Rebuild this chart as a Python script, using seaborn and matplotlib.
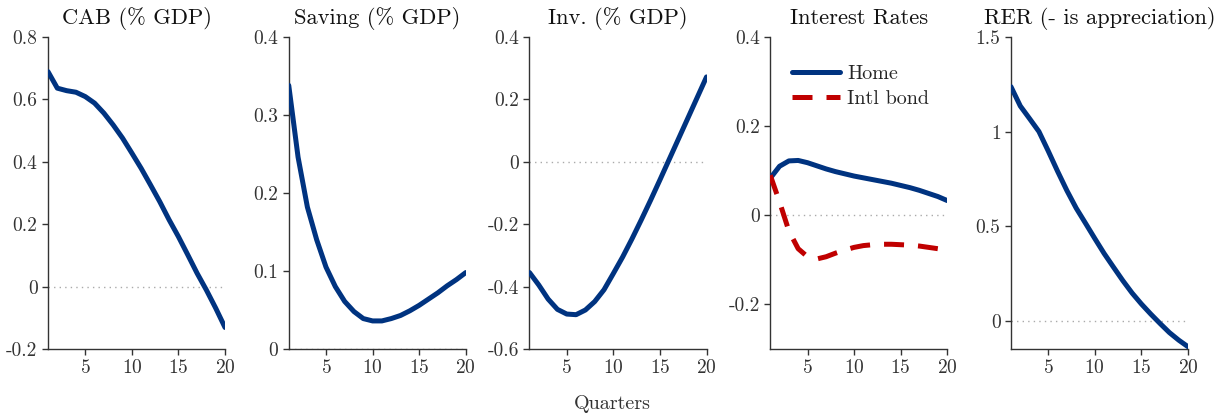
import matplotlib
matplotlib.use("Agg")
import matplotlib.pyplot as plt
from matplotlib.ticker import FuncFormatter, FixedLocator
import seaborn as sns
import pandas as pd

quarters = list(range(1, 21))

cab = [0.689, 0.636, 0.628, 0.623, 0.609, 0.588, 0.556, 0.518, 0.476, 0.428,
       0.379, 0.326, 0.272, 0.214, 0.160, 0.102, 0.043, -0.011, -0.069, -0.131]
saving = [0.338, 0.246, 0.182, 0.140, 0.105, 0.080, 0.061, 0.048, 0.039, 0.036,
          0.036, 0.039, 0.043, 0.049, 0.056, 0.064, 0.072, 0.081, 0.089, 0.098]
inv = [-0.355, -0.395, -0.440, -0.473, -0.488, -0.490, -0.475, -0.448, -0.410, -0.358,
       -0.305, -0.247, -0.186, -0.123, -0.058, 0.008, 0.074, 0.140, 0.206, 0.272]
rate_home = [0.083, 0.110, 0.122, 0.123, 0.118, 0.111, 0.104, 0.098, 0.093, 0.088,
             0.084, 0.080, 0.076, 0.072, 0.067, 0.062, 0.056, 0.049, 0.042, 0.033]
rate_intl = [0.090, 0.030, -0.035, -0.075, -0.093, -0.098, -0.093, -0.085, -0.078, -0.072,
             -0.068, -0.066, -0.065, -0.065, -0.066, -0.067, -0.069, -0.072, -0.075, -0.078]
rer = [1.237, 1.135, 1.068, 1.000, 0.897, 0.790, 0.688, 0.595, 0.515, 0.434,
       0.355, 0.283, 0.212, 0.146, 0.088, 0.035, -0.015, -0.063, -0.103, -0.138]

titles = ["CAB (% GDP)", "Saving (% GDP)", "Inv. (% GDP)", "Interest Rates",
          "RER (- is appreciation)"]
ylims = [(-0.2, 0.8), (0, 0.4), (-0.6, 0.4), (-0.3, 0.4), (-0.15, 1.5)]
yticks = [[-0.2, 0, 0.2, 0.4, 0.6, 0.8], [0, 0.1, 0.2, 0.3, 0.4],
          [-0.6, -0.4, -0.2, 0, 0.2, 0.4], [-0.2, 0, 0.2, 0.4], [0, 0.5, 1, 1.5]]
xticks = [5, 10, 15, 20]

navy = "#003380"
red = "#c00000"

sns.set_style("ticks")
plt.rcParams["font.family"] = ["cmr10", "DejaVu Serif"]
plt.rcParams["axes.unicode_minus"] = False
plt.rcParams["axes.formatter.use_mathtext"] = True

fig, axes = plt.subplots(1, 5, figsize=(12.25, 4.15), dpi=100)
fig.subplots_adjust(left=48 / 1225, right=1188 / 1225, bottom=66 / 415, top=378 / 415,
                    wspace=0.36)

single = [cab, saving, inv, None, rer]
fmt = FuncFormatter(lambda v, p: "{:g}".format(round(v, 6)))

for i, ax in enumerate(axes):
    ax.axhline(0, color="#aaaaaa", lw=1.0, ls=(0, (1, 3)), zorder=1)
    if single[i] is not None:
        df = pd.DataFrame({"q": quarters, "v": single[i]})
        sns.lineplot(data=df, x="q", y="v", ax=ax, color=navy, lw=3.6, zorder=3)
    else:
        df = pd.DataFrame({"q": quarters * 2,
                           "v": rate_home + rate_intl,
                           "s": ["Home"] * 20 + ["Intl bond"] * 20})
        sns.lineplot(data=df, x="q", y="v", hue="s", style="s", ax=ax,
                     palette={"Home": navy, "Intl bond": red},
                     dashes={"Home": "", "Intl bond": (4.0, 2.8)},
                     lw=3.6, zorder=3)
        leg = ax.legend(loc="upper left", frameon=False, fontsize=14.5,
                        handlelength=2.4, handletextpad=0.35, labelspacing=0.3,
                        bbox_to_anchor=(0.075, 0.935), borderaxespad=0)
        for h in leg.get_lines():
            h.set_linewidth(3.6)
    ax.set_xlim(1, 20)
    ax.set_ylim(*ylims[i])
    ax.xaxis.set_major_locator(FixedLocator(xticks))
    ax.yaxis.set_major_locator(FixedLocator(yticks[i]))
    ax.yaxis.set_major_formatter(fmt)
    ax.set_xlabel("")
    ax.set_ylabel("")
    ax.set_title(titles[i], fontsize=16.2, pad=9, color="#111111")
    ax.tick_params(labelsize=14, colors="#333333", length=4, width=1)
    for s in ("top", "right"):
        ax.spines[s].set_visible(False)
    for s in ("left", "bottom"):
        ax.spines[s].set_color("#333333")
        ax.spines[s].set_linewidth(1.0)

fig.text(0.5, 0.027, "Quarters", ha="center", va="center", fontsize=14.5, color="#333333")

fig.savefig("out.png", dpi=100)
